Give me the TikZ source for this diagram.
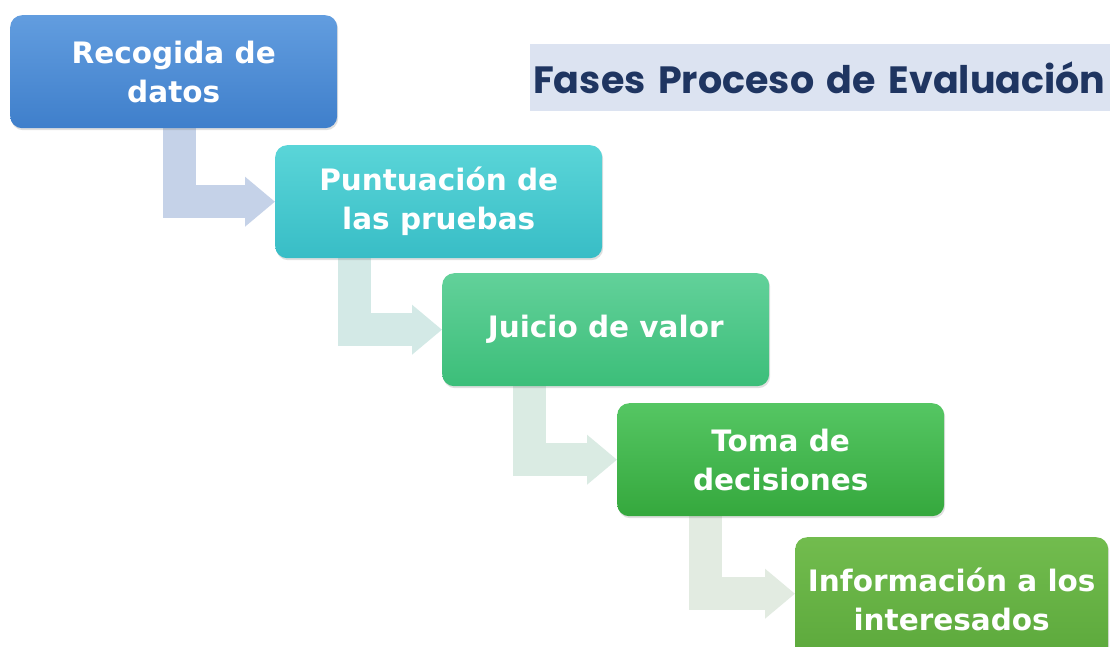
\documentclass[tikz,border=0pt]{standalone}
\usepackage{fontspec}
\setmainfont{DejaVu Sans}
\newfontfamily\titlefont{Poppins}
\usetikzlibrary{arrows.meta,shadows,backgrounds}
\definecolor{bOneT}{HTML}{629DDF}
\definecolor{bOneB}{HTML}{3F7FCB}
\definecolor{bTwoT}{HTML}{5AD5D8}
\definecolor{bTwoB}{HTML}{38BDC6}
\definecolor{bThreeT}{HTML}{62D19A}
\definecolor{bThreeB}{HTML}{3CBE79}
\definecolor{bFourT}{HTML}{55C663}
\definecolor{bFourB}{HTML}{35A83D}
\definecolor{bFiveT}{HTML}{72BC4E}
\definecolor{bFiveB}{HTML}{5AA73A}
\definecolor{aOne}{HTML}{C5D2E8}
\definecolor{aTwo}{HTML}{D3E9E6}
\definecolor{aThree}{HTML}{DAEBE3}
\definecolor{aFour}{HTML}{E2EBE1}
\definecolor{band}{HTML}{DCE3F1}
\definecolor{navy}{HTML}{1F3561}
\begin{document}
\begin{tikzpicture}[x=1pt,y=-1pt,
  stage/.style={rounded corners=12pt, minimum width=327pt, minimum height=113pt,
    inner sep=0pt, anchor=north west, align=center, text=white,
    font=\fontsize{29.5}{39}\selectfont\bfseries,
    drop shadow={opacity=0.25, shadow xshift=1pt, shadow yshift=-2pt}},
  flow/.style={line width=33pt, line join=miter,
    -{Triangle[width=48pt,length=30pt]}},
  titleband/.style={fill=band, anchor=north west, minimum height=67pt,
    text width=580pt, inner xsep=3pt, inner ysep=0pt, align=left,
    text=navy, font=\titlefont\bfseries\fontsize{38}{44}\selectfont}
]
\useasboundingbox (0,0) rectangle (1110,646);
\node[titleband] (title) at (530,44) {Fases Proceso de Evaluación};
\node[stage, top color=bOneT, bottom color=bOneB] (b1) at (10,15) {Recogida de\\datos};
\node[stage, top color=bTwoT, bottom color=bTwoB] (b2) at (275,145) {Puntuación de\\las pruebas};
\node[stage, top color=bThreeT, bottom color=bThreeB] (b3) at (442,273) {Juicio de valor};
\node[stage, top color=bFourT, bottom color=bFourB] (b4) at (617,403) {Toma de\\decisiones};
\node[stage, top color=bFiveT, bottom color=bFiveB, minimum width=313pt, minimum height=131pt] (b5) at (795,537)
  {\raisebox{14pt}{\begin{tabular}{@{}c@{}}Información a los\\interesados\end{tabular}}};
\begin{scope}[on background layer]
  \fill[white] (0,0) rectangle (1110,646);
  \draw[flow, aOne] ([xshift=5.5pt]b1.south) |- (b2.west);
  \draw[flow, aTwo] ([xshift=-84pt]b2.south) |- (b3.west);
  \draw[flow, aThree] ([xshift=-76pt]b3.south) |- (b4.west);
  \draw[flow, aFour] ([xshift=-75pt]b4.south) |- ([yshift=9pt]b5.west);
\end{scope}
\end{tikzpicture}
\end{document}
